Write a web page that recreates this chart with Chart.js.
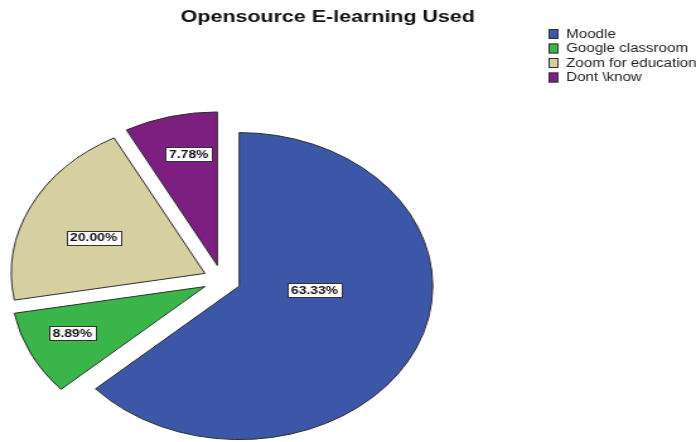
<!DOCTYPE html>
<html>
<head>
<meta charset="utf-8">
<script src="https://cdn.jsdelivr.net/npm/chart.js@4/dist/chart.umd.min.js"></script>
<style>
  html, body { margin: 0; padding: 0; background: #fff; overflow: hidden; }
  /* the chart is laid out narrow and stretched sideways, like the SPSS export */
  #wrap {
    position: absolute; left: 0; top: 0;
    width: 552px; height: 442px;
    transform: scaleX(1.2609);
    transform-origin: 0 0;
  }
</style>
</head>
<body>
<div id="wrap"><canvas id="pie"></canvas></div>
<script>
const chartTitle = "Opensource E-learning Used";
const categories = ["Moodle", "Google classroom", "Zoom for education", "Dont \\know"];
const shares = [63.33, 8.89, 20.0, 7.78];
const sliceColors = ["#3d57a8", "#3ab54a", "#d6cf9f", "#7d1f80"];

const EXPLODE = 15;
// where each value box sits: share of the radius, and turn (deg) off the slice middle
const labelSpots = [
  { r: 0.39, turn: -20 },
  { r: 0.75, turn: 2 },
  { r: 0.62, turn: -4 },
  { r: 0.74, turn: 2.5 },
];

const explodedSlices = {
  id: "explodedSlices",
  beforeDatasetDraw(chart, args) {
    const ctx = chart.ctx;
    args.meta.data.forEach((arc) => {
      const mid = (arc.startAngle + arc.endAngle) / 2;
      ctx.save();
      ctx.translate(Math.cos(mid) * EXPLODE, Math.sin(mid) * EXPLODE);
      arc.draw(ctx);
      ctx.restore();
    });
    return false;
  },
};

const valueBoxes = {
  id: "valueBoxes",
  afterDatasetsDraw(chart) {
    const ctx = chart.ctx;
    const meta = chart.getDatasetMeta(0);
    ctx.save();
    ctx.font = "bold 11px 'Liberation Sans', Arial, sans-serif";
    ctx.textAlign = "center";
    ctx.textBaseline = "middle";
    meta.data.forEach((arc, i) => {
      const mid = (arc.startAngle + arc.endAngle) / 2;
      const spot = labelSpots[i];
      const a = mid + (spot.turn * Math.PI) / 180;
      const x = arc.x + Math.cos(mid) * EXPLODE + Math.cos(a) * arc.outerRadius * spot.r;
      const y = arc.y + Math.sin(mid) * EXPLODE + Math.sin(a) * arc.outerRadius * spot.r;
      const text = shares[i].toFixed(2) + "%";
      const w = ctx.measureText(text).width + 6;
      const h = 14;
      ctx.fillStyle = "#ffffff";
      ctx.fillRect(Math.round(x - w / 2), Math.round(y - h / 2), Math.round(w), h);
      ctx.strokeStyle = "#333333";
      ctx.lineWidth = 1;
      ctx.strokeRect(Math.round(x - w / 2) + 0.5, Math.round(y - h / 2) + 0.5, Math.round(w), h);
      ctx.fillStyle = "#111111";
      ctx.fillText(text, x, y + 0.5);
    });
    ctx.restore();
  },
};

const titleAndKey = {
  id: "titleAndKey",
  afterDraw(chart) {
    const ctx = chart.ctx;
    ctx.save();
    ctx.fillStyle = "#111111";
    ctx.font = "bold 17px 'Liberation Sans', Arial, sans-serif";
    ctx.textAlign = "center";
    ctx.textBaseline = "alphabetic";
    ctx.fillText(chartTitle, 260, 22);

    ctx.font = "12px 'Liberation Sans', Arial, sans-serif";
    ctx.textAlign = "left";
    ctx.textBaseline = "middle";
    categories.forEach((name, i) => {
      const y = 34 + i * 14.5;
      ctx.fillStyle = sliceColors[i];
      ctx.fillRect(435, y - 5, 8, 10);
      ctx.strokeStyle = "#333333";
      ctx.lineWidth = 1;
      ctx.strokeRect(435.5, y - 4.5, 7, 9);
      ctx.fillStyle = "#222222";
      ctx.fillText(name, 449, y + 0.5);
    });
    ctx.restore();
  },
};

new Chart(document.getElementById("pie"), {
  type: "pie",
  data: {
    labels: categories,
    datasets: [
      {
        data: shares,
        backgroundColor: sliceColors,
        borderColor: "#2e2e2e",
        borderWidth: 1,
      },
    ],
  },
  options: {
    responsive: true,
    maintainAspectRatio: false,
    animation: false,
    layout: { padding: { left: 22, top: 126, right: 222, bottom: 8 } },
    plugins: {
      legend: { display: false },
      tooltip: { enabled: false },
    },
  },
  plugins: [explodedSlices, valueBoxes, titleAndKey],
});
</script>
</body>
</html>
